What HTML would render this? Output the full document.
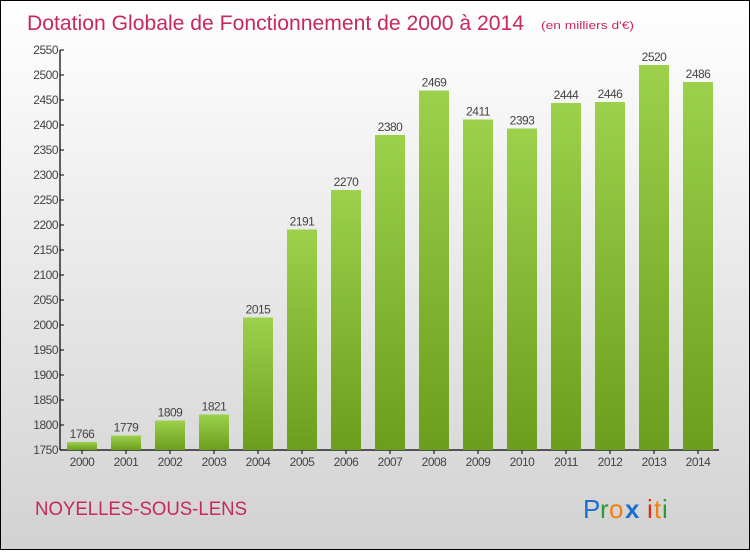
<!DOCTYPE html>
<html><head><meta charset="utf-8"><style>
html,body{margin:0;padding:0}
body{width:750px;height:550px;overflow:hidden;font-family:"Liberation Sans",sans-serif}
#wrap{position:relative;width:748px;height:548px;border:1px solid #000;background:linear-gradient(#ffffff,#d2d2d2)}
</style></head><body>
<div id="wrap">
<svg id="chart" width="748" height="548" xmlns="http://www.w3.org/2000/svg">
<defs>
<linearGradient id="barg" x1="0" y1="0" x2="0" y2="1">
<stop offset="0" stop-color="#9cd14c"/><stop offset="1" stop-color="#6a9e1c"/>
</linearGradient>
</defs>
<text x="26" y="29" font-size="21" fill="#c8285a" textLength="497" lengthAdjust="spacingAndGlyphs">Dotation Globale de Fonctionnement de 2000 à 2014</text>
<text x="540" y="28" font-size="11" fill="#c8285a" textLength="93" lengthAdjust="spacingAndGlyphs">(en milliers d'€)</text>
<g id="axes"></g>
<g id="bars"></g>
<text x="34" y="514" font-size="19" fill="#c8285a" textLength="212" lengthAdjust="spacingAndGlyphs">NOYELLES-SOUS-LENS</text>
<g font-size="26" font-family="'Liberation Sans',sans-serif">
<text x="582" y="517" fill="#1a6fd0">P</text><text x="599" y="517" fill="#2a9a3a">r</text><text x="608" y="517" fill="#f08010">o</text><text x="624" y="517" fill="#1a6fd0" font-weight="bold">x</text><text x="646" y="517" fill="#e03010">i</text><text x="653" y="517" fill="#f08010">t</text><text x="661" y="517" fill="#2a9a3a">i</text>
</g>
</svg>
</div>
<script>
const categories=["2000","2001","2002","2003","2004","2005","2006","2007","2008","2009","2010","2011","2012","2013","2014"];
const values=[1766,1779,1809,1821,2015,2191,2270,2380,2469,2411,2393,2444,2446,2520,2486];
const yTicks=[1750,1800,1850,1900,1950,2000,2050,2100,2150,2200,2250,2300,2350,2400,2450,2500,2550];
const NS="http://www.w3.org/2000/svg";
const yMin=1750,yMax=2550,yTop=49,yBot=449,x0=59;
function yS(v){return yBot-(v-yMin)/(yMax-yMin)*(yBot-yTop);}
function xS(i){return 81+i*44;}
function mk(t,a,p){const e=document.createElementNS(NS,t);for(const k in a)e.setAttribute(k,a[k]);p.appendChild(e);return e;}
const ax=document.getElementById('axes'),bg=document.getElementById('bars');
const yl=mk('line',{x1:x0,y1:yTop,x2:x0,y2:yBot,stroke:'#000','stroke-width':1.2},ax);


const xl=mk('line',{x1:x0,y1:yBot,x2:718,y2:yBot,stroke:'#000','stroke-width':1.2},ax);


yTicks.forEach(v=>{const y=yS(v);
mk('line',{x1:x0,y1:y,x2:x0+4,y2:y,stroke:'#000'},ax);
const t=mk('text',{x:x0-2,y:y+4,'text-anchor':'end','font-size':12,fill:'#444','letter-spacing':'-0.5'},ax);t.textContent=v;

});
categories.forEach((c,i)=>{const cx=xS(i),y=yS(values[i]);
const r=mk('rect',{x:cx-15,y:y,width:30,height:yBot-y,fill:'url(#barg)'},bg);


const v=mk('text',{x:cx,y:y-4,'text-anchor':'middle','font-size':12,fill:'#444','letter-spacing':'-0.5'},bg);v.textContent=values[i];


mk('line',{x1:cx,y1:yBot,x2:cx,y2:yBot+4,stroke:'#000'},ax);
const t=mk('text',{x:cx,y:yBot+16,'text-anchor':'middle','font-size':12,fill:'#444','letter-spacing':'-0.5'},ax);t.textContent=c;

});
</script>
</body></html>
